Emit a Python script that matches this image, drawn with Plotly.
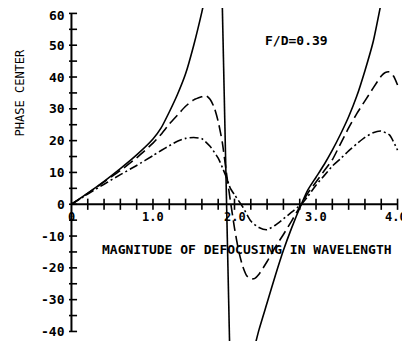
import plotly.graph_objects as go

# ---------------- data ----------------
solid_left_x = [0, 0.2, 0.4, 0.6, 0.8, 1.0, 1.1, 1.2, 1.3, 1.4, 1.5, 1.6, 1.63]
solid_left_y = [0, 3.5, 7.2, 11.2, 15.5, 20.5, 24, 29, 34.5, 41, 50, 60.5, 64]

asym_x = [1.85, 1.94]
asym_y = [63, -44]

solid_right_x = [2.25, 2.3, 2.4, 2.5, 2.6, 2.7, 2.82, 2.9, 3.0, 3.1, 3.2, 3.3, 3.4, 3.5, 3.6, 3.7, 3.8]
solid_right_y = [-44.5, -39.5, -31, -22.5, -14.5, -7.5, 0, 4.5, 8.5, 12.5, 17, 22, 27.5, 34, 42, 51, 63.5]

dashed_x = [0, 0.2, 0.4, 0.6, 0.8, 1.0, 1.1, 1.2, 1.3, 1.4, 1.5, 1.6, 1.65, 1.7, 1.75, 1.8, 1.85,
            1.9, 1.95, 2.0, 2.05, 2.1, 2.15, 2.2, 2.25, 2.3, 2.4, 2.5, 2.6, 2.7, 2.82, 2.9, 3.0,
            3.1, 3.2, 3.3, 3.4, 3.5, 3.6, 3.7, 3.8, 3.85, 3.9, 3.95, 4.0]
dashed_y = [0, 3.4, 7.0, 10.6, 14.6, 19.2, 22, 25.2, 28, 30.8, 32.8, 33.8, 34.2, 33, 30.5, 26, 19.5,
            10, 1, -7.5, -14.5, -19.5, -22.5, -23.5, -23.3, -22, -18, -13.5, -9.5, -5.3, 0, 3.5, 7,
            10.5, 14, 19, 24, 28.5, 32.5, 36.5, 40.3, 41.4, 41.6, 40.3, 37.5]

dashdot_x = [0, 0.2, 0.4, 0.6, 0.8, 1.0, 1.1, 1.2, 1.3, 1.4, 1.5, 1.6, 1.7, 1.8, 1.86, 1.9, 1.95,
             2.0, 2.1, 2.2, 2.3, 2.4, 2.5, 2.6, 2.7, 2.82, 2.9, 3.0, 3.1, 3.2, 3.3, 3.4, 3.5,
             3.6, 3.7, 3.8, 3.9, 4.0]
dashdot_y = [0, 3.2, 6.3, 9.3, 12.2, 15.3, 16.9, 18.4, 19.8, 20.7, 21, 20.6, 18.2, 14.5, 11, 8.5, 5,
             3, -0.8, -5.3, -7.3, -8, -6.6, -4.6, -2.5, 0, 2.5, 6, 9, 12, 14.3, 16.8, 19,
             21, 22.5, 23, 21.8, 17]

x_tick_vals = [0, 1, 2, 3, 4]
x_tick_text = ["0", "1.0", "2.0", "3.0", "4.0"]
x_minor = [round(0.2 * i, 1) for i in range(1, 21)]
y_tick_vals = [-40, -30, -20, -10, 0, 10, 20, 30, 40, 50, 60]
y_minor = list(range(-40, 61, 5))

x_title = "MAGNITUDE OF DEFOCUSING IN WAVELENGTH"
y_title = "PHASE CENTER"
fd_label = "F/D=0.39"

# ---------------- figure ----------------
FONT = "DejaVu Sans Mono"
fig = go.Figure()

# axes lines
fig.add_trace(go.Scatter(x=[0, 0], y=[y_minor[0], y_minor[-1]], mode="lines",
                         line=dict(color="black", width=2), hoverinfo="skip"))
fig.add_trace(go.Scatter(x=[0, x_minor[-1]], y=[0, 0], mode="lines",
                         line=dict(color="black", width=2), hoverinfo="skip"))
# ticks
fig.add_trace(go.Scatter(x=x_minor, y=[0] * len(x_minor), mode="markers",
                         marker=dict(symbol="line-ns", size=8, line=dict(color="black", width=1.6)),
                         hoverinfo="skip"))
fig.add_trace(go.Scatter(x=[0] * len(y_minor), y=y_minor, mode="markers",
                         marker=dict(symbol="line-ew", size=8, line=dict(color="black", width=1.6)),
                         hoverinfo="skip"))

# curves
lw = 1.6
fig.add_trace(go.Scatter(x=solid_left_x, y=solid_left_y, mode="lines",
                         line=dict(color="black", width=lw, shape="spline", smoothing=0.6)))
fig.add_trace(go.Scatter(x=asym_x, y=asym_y, mode="lines",
                         line=dict(color="black", width=lw)))
fig.add_trace(go.Scatter(x=solid_right_x, y=solid_right_y, mode="lines",
                         line=dict(color="black", width=lw, shape="spline", smoothing=0.6)))
fig.add_trace(go.Scatter(x=dashed_x, y=dashed_y, mode="lines",
                         line=dict(color="black", width=lw, dash="11px,5px", shape="spline", smoothing=0.6)))
fig.add_trace(go.Scatter(x=dashdot_x, y=dashdot_y, mode="lines",
                         line=dict(color="black", width=lw, dash="9px,3px,2px,3px", shape="spline", smoothing=0.6)))

ann = []
for v, t in zip(x_tick_vals, x_tick_text):
    ann.append(dict(x=v, y=0, xref="x", yref="y", text=t, showarrow=False,
                    xanchor="center", yanchor="middle", yshift=-13,
                    xshift=(-2 if v == x_tick_vals[-1] else 0),
                    font=dict(family=FONT, size=12, color="black", weight="bold")))
for v in y_tick_vals:
    ann.append(dict(x=0, y=v, xref="x", yref="y", text=str(v), showarrow=False,
                    xanchor="right", yanchor="middle", xshift=-4,
                    yshift=(-2 if v == y_tick_vals[-1] else 0),
                    font=dict(family=FONT, size=13, color="black", weight="bold")))
ann.append(dict(x=2.15, y=0, xref="x", yref="y", text=x_title, showarrow=False,
                xanchor="center", yanchor="middle", yshift=-45,
                font=dict(family=FONT, size=13, color="black", weight="bold")))
ann.append(dict(x=2.76, y=51.6, xref="x", yref="y", text=fd_label, showarrow=False,
                xanchor="center", yanchor="middle",
                font=dict(family=FONT, size=13, color="black", weight="bold")))
ann.append(dict(x=0, y=35, xref="paper", yref="y", text=y_title, showarrow=False,
                xanchor="center", yanchor="middle", xshift=-49.5, textangle=-90,
                font=dict(family=FONT, size=12, color="black")))

# The page body has an 8px default margin, so the figure is 8px smaller each way.
fig.update_layout(
    width=402, height=334, autosize=False,
    margin=dict(l=60.5, r=9.6, t=0, b=1, pad=0),
    paper_bgcolor="white", plot_bgcolor="white",
    showlegend=False,
    xaxis=dict(range=[-0.03, 4.03], visible=False, fixedrange=True),
    yaxis=dict(range=[-43, 61.7], visible=False, fixedrange=True),
    annotations=ann,
)

fig.write_html("out.html")
